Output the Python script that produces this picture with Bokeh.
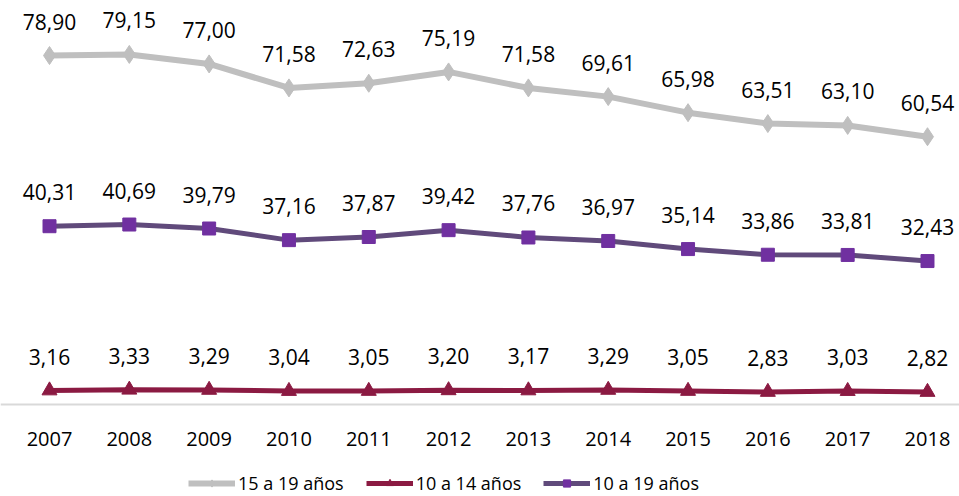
from bokeh.plotting import figure
from bokeh.models import ColumnDataSource, FixedTicker, Legend, LegendItem, Range1d
from bokeh.core.properties import value
from bokeh.embed import file_html
from bokeh.resources import INLINE

years = ["2007", "2008", "2009", "2010", "2011", "2012", "2013", "2014", "2015", "2016", "2017", "2018"]
s15_19 = [78.90, 79.15, 77.00, 71.58, 72.63, 75.19, 71.58, 69.61, 65.98, 63.51, 63.10, 60.54]
s10_14 = [3.16, 3.33, 3.29, 3.04, 3.05, 3.20, 3.17, 3.29, 3.05, 2.83, 3.03, 2.82]
s10_19 = [40.31, 40.69, 39.79, 37.16, 37.87, 39.42, 37.76, 36.97, 35.14, 33.86, 33.81, 32.43]

FONT = "Open Sans"
xs = list(range(len(years)))

p = figure(width=959, height=496, output_backend="svg", toolbar_location=None,
           x_range=Range1d(-0.6139, 11.401), y_range=Range1d(-20.8, 91.34),
           min_border=0, outline_line_color=None)
p.grid.visible = False
p.yaxis.visible = False

ax = p.xaxis[0]
ax.fixed_location = 0
ax.ticker = FixedTicker(ticks=xs)
ax.major_label_overrides = {i: y for i, y in enumerate(years)}
ax.major_tick_line_color = None
ax.minor_tick_line_color = None
ax.axis_line_color = "#D9D9D9"
ax.axis_line_width = 2
ax.major_label_text_font = FONT
ax.major_label_text_font_size = "20px"
ax.major_label_text_color = "#000000"
ax.major_label_standoff = 21

def fmt(v):
    return f"{v:.2f}".replace(".", ",")

series = [
    ("15 a 19 años", s15_19, "#BFBFBF", "#BFBFBF", "diamond", 18, 6),
    ("10 a 14 años", s10_14, "#8B1A42", "#8B1A42", "triangle", 15, 5),
    ("10 a 19 años", s10_19, "#604A7B", "#7030A0", "square", 13, 5),
]

items = []
for name, vals, lc, mc, marker, size, lw in series:
    src = ColumnDataSource(dict(x=xs, y=vals, lbl=[fmt(v) for v in vals]))
    r1 = p.line("x", "y", source=src, line_color=lc, line_width=lw)
    r2 = p.scatter("x", "y", source=src, marker=marker, size=size, fill_color=mc, line_color=mc)
    p.text("x", "y", text="lbl", source=src, text_align="center", text_baseline="middle",
           y_offset=-34, text_font=value(FONT), text_font_size="21px", text_color="#000000")
    items.append(LegendItem(label=name, renderers=[r1, r2]))

legend = Legend(items=items, orientation="horizontal", location=(188, 1),
                label_text_font=FONT, label_text_font_size="18px", label_text_color="#000000",
                glyph_width=47, glyph_height=18, label_standoff=3, spacing=22,
                padding=1, margin=0, border_line_color=None, background_fill_alpha=0)
p.add_layout(legend, "center")

open("out.html", "w").write(file_html(p, INLINE))
